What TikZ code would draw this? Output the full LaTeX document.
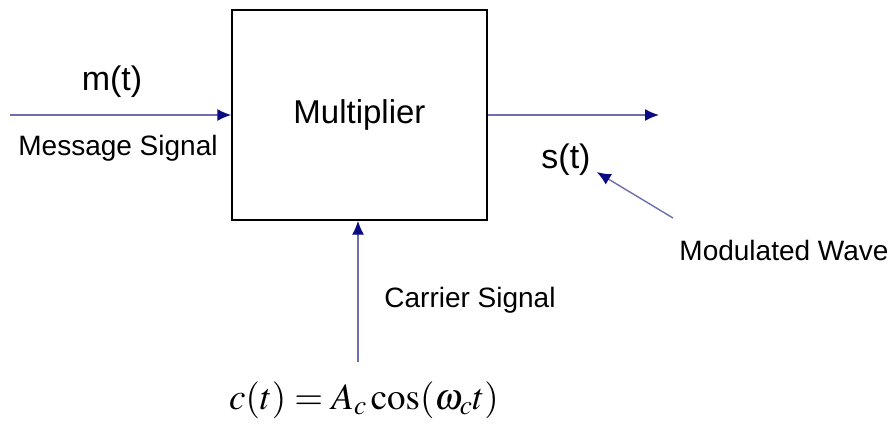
\documentclass[tikz,border=0pt]{standalone}
\usepackage{mathptmx}
\usepackage{fontspec}
\setmainfont{Liberation Sans}
\usepackage{tikz}
\usetikzlibrary{arrows.meta,positioning,calc}
\definecolor{wireblue}{RGB}{110,110,175}
\definecolor{tipnavy}{RGB}{10,10,130}
\tikzset{
    block/.style={
        rectangle,
        draw,
        line width=1.4pt,
        minimum width=255pt,
        minimum height=210pt,
        font=\fontsize{33}{36}\selectfont
    },
    signal/.style={
        draw=wireblue,
        line width=1.4pt,
        -{Latex[length=14pt,width=12pt,color=tipnavy]}
    },
    lbl/.style={
        inner sep=0pt,
        font=\fontsize{28}{32}\selectfont
    },
    sym/.style={
        inner sep=0pt,
        font=\fontsize{34}{38}\selectfont
    }
}

\begin{document}
\begin{tikzpicture}[x=1pt, y=-1pt]
    \useasboundingbox (0,0) rectangle (895,424);
    \node (mult) [block] at (359.5,115) {Multiplier};
    
    \coordinate (msgin) at (10,115);
    \coordinate (out) at (659,115);
    \coordinate (carin) at (358,362);
    \coordinate (modtail) at (673,218);
    
    \node (mt) [sym] at (112,82) {m(t)};
    \node (msg) [lbl] at (118,148) {Message Signal};
    \node (st) [sym] at (566,160) {s(t)};
    \node (mod) [lbl] at (784,250) {Modulated Wave};
    \node (car) [lbl] at (470,300) {Carrier Signal};
    \node (ct) [inner sep=0pt, font=\fontsize{37}{40}\selectfont] at (364,400) {$c(t)=A_c\cos(\omega_c t)$};
    
    \draw [signal] (msgin) -- (mult.west);
    \draw [signal] (mult.east) -- (out);
    \draw [signal] (carin) -- (carin |- mult.south);
    \draw [signal] (modtail) -- ($(st.south east)+(6,-4)$);
\end{tikzpicture}
\end{document}
